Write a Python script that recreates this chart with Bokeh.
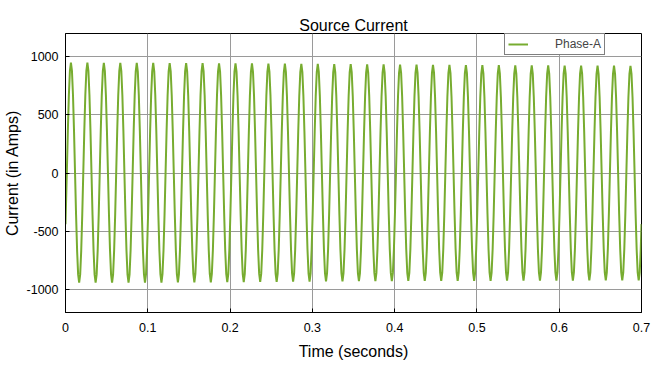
from bokeh.plotting import figure
from bokeh.models import Range1d, FixedTicker, Legend, LegendItem, ColumnDataSource
from bokeh.embed import file_html
from bokeh.resources import INLINE

# ---- data ----
freq_hz = 50.0                 # 5 cycles per 0.1 s
first_up_crossing_s = 0.0016   # first rising zero crossing
start_value = -440.0           # current at t = 0
end_value = -440.0             # current at t = 0.7
t_end = 0.7

# positive peak of each cycle (35 cycles)
peak_amps = [950, 950, 948, 948, 947, 947, 946, 945, 945, 944,
             943, 942, 941, 940, 939, 938, 937, 936, 935, 934,
             933, 932, 931, 930, 929, 928, 927, 926, 925, 925,
             924, 924, 923, 923, 922]
# negative trough of each cycle (35 cycles)
trough_amps = [-944, -944, -943, -943, -942, -942, -941, -940, -940, -939,
               -938, -937, -936, -935, -934, -933, -932, -931, -930, -930,
               -929, -929, -928, -928, -927, -927, -926, -926, -925, -925,
               -925, -924, -924, -924, -924]
# normalised shape of one half cycle, sampled every 1/16 of a period
half_cycle_shape = [0.0, 0.383, 0.707, 0.924, 1.0, 0.924, 0.707, 0.383]

x_ticks = [0, 0.1, 0.2, 0.3, 0.4, 0.5, 0.6, 0.7]
x_tick_labels = ["0", "0.1", "0.2", "0.3", "0.4", "0.5", "0.6", "0.7"]
y_ticks = [-1000, -500, 0, 500, 1000]
y_tick_labels = ["-1000", "-500", "0", "500", "1000"]

# ---- build the waveform from the read values ----
period = 1.0 / freq_hz
step = period / (2 * len(half_cycle_shape))
t_vals = [0.0]
i_vals = [start_value]
for n, (pk, tr) in enumerate(zip(peak_amps, trough_amps)):
    base = first_up_crossing_s + n * period
    for k, s in enumerate(half_cycle_shape):
        t = base + k * step
        if 0 < t < t_end:
            t_vals.append(t); i_vals.append(s * pk)
    for k, s in enumerate(half_cycle_shape):
        t = base + period / 2 + k * step
        if 0 < t < t_end:
            t_vals.append(t); i_vals.append(s * tr)
t_vals.append(t_end)
i_vals.append(end_value)

src = ColumnDataSource(dict(t=t_vals, i=i_vals))

FONT = "Liberation Sans"

p = figure(frame_width=576, frame_height=279,
           min_border_left=65, min_border_right=20,
           min_border_top=33, min_border_bottom=61,
           x_range=Range1d(0, 0.7), y_range=Range1d(-1200, 1200),
           output_backend="svg", toolbar_location=None,
           background_fill_color="white", border_fill_color="white")

r = p.line("t", "i", source=src, line_color="#77AC30", line_width=2)

p.title.text = "Source Current"
p.title.align = "center"
p.title.text_font = FONT
p.title.text_font_size = "16px"
p.title.text_font_style = "normal"
p.title.text_color = "black"
p.title.standoff = 0
p.title.offset = 0

p.outline_line_color = "black"
p.outline_line_width = 1
p.outline_line_alpha = 1

for ax in (p.xaxis[0], p.yaxis[0]):
    ax.axis_line_color = "black"
    ax.major_tick_line_color = "black"
    ax.major_tick_in = 4
    ax.major_tick_out = 0
    ax.minor_tick_line_color = None
    ax.major_label_text_font = FONT
    ax.major_label_text_font_size = "12.5px"
    ax.major_label_text_color = "black"
    ax.axis_label_text_font = FONT
    ax.axis_label_text_font_size = "16px"
    ax.axis_label_text_font_style = "normal"
    ax.axis_label_text_color = "black"

p.xaxis[0].ticker = FixedTicker(ticks=x_ticks)
p.xaxis[0].major_label_overrides = dict(zip(x_ticks, x_tick_labels))
p.xaxis[0].axis_label = "Time (seconds)"
p.xaxis[0].major_label_standoff = 10
p.xaxis[0].axis_label_standoff = 8

p.yaxis[0].ticker = FixedTicker(ticks=y_ticks)
p.yaxis[0].major_label_overrides = dict(zip(y_ticks, y_tick_labels))
p.yaxis[0].axis_label = "Current (in Amps)"
p.yaxis[0].major_label_standoff = 7
p.yaxis[0].axis_label_standoff = 3

p.xgrid.ticker = FixedTicker(ticks=x_ticks)
p.ygrid.ticker = FixedTicker(ticks=y_ticks)
for g in (p.xgrid[0], p.ygrid[0]):
    g.grid_line_color = "#9a9a9a"
    g.grid_line_width = 1
    g.grid_line_alpha = 1

legend = Legend(items=[LegendItem(label="Phase-A", renderers=[r])],
                location=(439, 257), padding=3, margin=0,
                glyph_width=20, glyph_height=10, label_standoff=27,
                label_text_font=FONT, label_text_font_size="12px",
                label_height=10, spacing=0,
                border_line_color="black", border_line_width=1,
                background_fill_color="white", background_fill_alpha=1)
p.add_layout(legend, "center")

open("out.html", "w").write(file_html(p, INLINE))
